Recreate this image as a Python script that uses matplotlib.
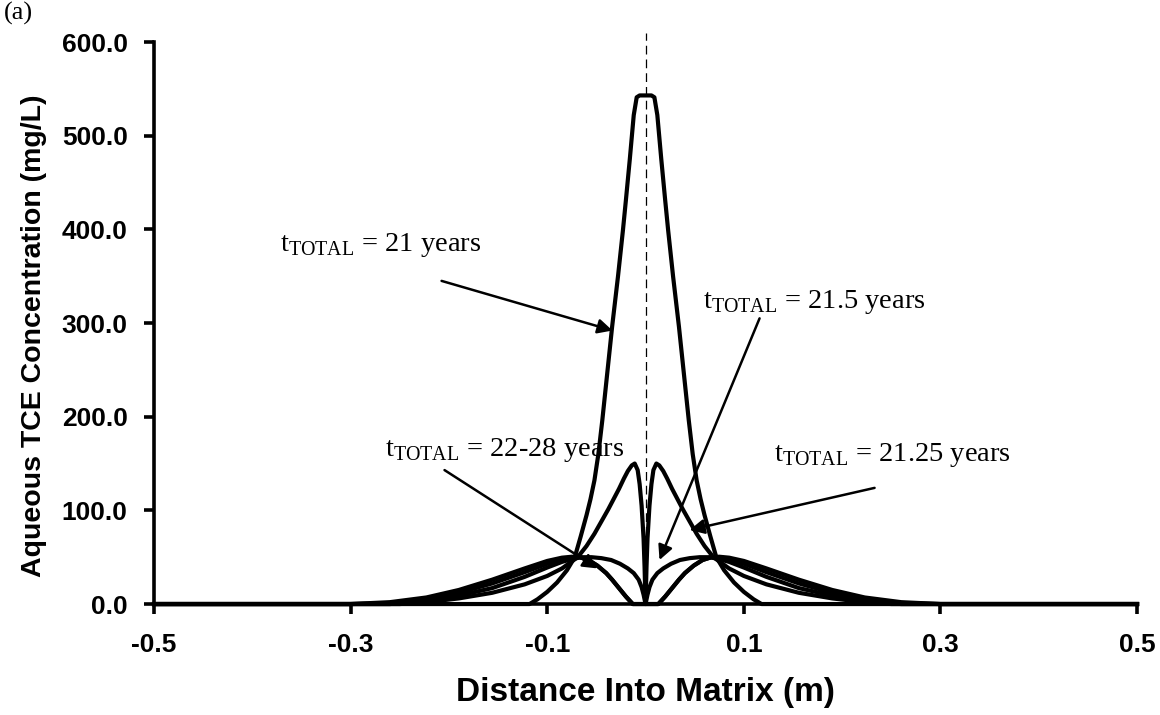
import numpy as np
import matplotlib
matplotlib.use("Agg")
import matplotlib.pyplot as plt

# half profiles (x >= 0), mirrored about the fracture at x = 0
x_21 = [0, 0.006, 0.009, 0.012, 0.016, 0.020, 0.023, 0.028, 0.034, 0.040, 0.044,
        0.048, 0.052, 0.056, 0.060, 0.066, 0.072, 0.080, 0.090, 0.100, 0.110, 0.118, 0.5]
c_21 = [543, 543, 541, 522, 475, 431, 399, 350, 296, 236, 196,
        160, 132, 112, 95, 72, 50, 36, 23, 13, 5, 0, 0]

x_2125 = [0, 0.001, 0.002, 0.004, 0.006, 0.008, 0.011, 0.014, 0.018, 0.022, 0.027,
          0.032, 0.038, 0.045, 0.052, 0.060, 0.069, 0.085, 0.100, 0.123, 0.156,
          0.190, 0.223, 0.250, 0.5]
c_2125 = [0, 40, 70, 105, 128, 143, 150, 148, 142, 134, 123,
          113, 101, 88, 75, 62, 50, 38, 30, 21, 12,
          6, 2, 0, 0]

x_215 = [0, 0.002, 0.004, 0.007, 0.012, 0.018, 0.026, 0.035, 0.045, 0.055, 0.065,
         0.075, 0.085, 0.100, 0.123, 0.156, 0.190, 0.223, 0.260, 0.5]
c_215 = [0, 10, 18, 26, 33, 38, 43, 47, 49, 50, 50,
         48, 45, 39, 29, 17, 9, 4, 0, 0]

x_22_28 = [0, 0.013, 0.020, 0.027, 0.034, 0.040, 0.049, 0.058, 0.067, 0.075, 0.085,
           0.100, 0.123, 0.156, 0.190, 0.223, 0.260, 0.300, 0.5]
c_22 = [0, 0, 8, 17, 26, 33, 41, 47, 50, 50, 48,
        43, 34, 22, 12, 6, 1, 0, 0]
c_28 = [0, 0, 8, 17, 26, 33, 41, 47, 50, 50.5, 49.5,
        46, 38, 26, 15, 7, 2, 0, 0]

x_ticks = [-0.5, -0.3, -0.1, 0.1, 0.3, 0.5]
y_ticks = [0, 100, 200, 300, 400, 500, 600]

plt.rcParams['font.family'] = 'Liberation Sans'
plt.rcParams['mathtext.fontset'] = 'custom'
plt.rcParams['mathtext.rm'] = 'Liberation Serif'


def mirror(x, y):
    x = np.array(x)
    y = np.array(y)
    return np.concatenate([-x[::-1], x[1:]]), np.concatenate([y[::-1], y[1:]])


fig = plt.figure(figsize=(11.6, 7.15), dpi=100)
ax = fig.add_axes([0.1328, 0.1552, 0.8474, 0.786])

for xs, ys in [(x_22_28, c_22), (x_22_28, c_28), (x_215, c_215), (x_2125, c_2125), (x_21, c_21)]:
    mx, my = mirror(xs, ys)
    ax.plot(mx, my, color='black', lw=3, solid_joinstyle='round', clip_on=False)

# fracture position
ax.plot([0.0005, 0.0005], [0, 610], color='black', lw=0.9, ls=(0, (7, 4)), clip_on=False)

ax.set_xlim(-0.5, 0.5)
ax.set_ylim(0, 600)
ax.set_xticks(x_ticks)
ax.set_xticklabels([f"{t:.1f}" for t in x_ticks])
ax.set_yticks(y_ticks)
ax.set_yticklabels([f"{t:.1f}" for t in y_ticks])
for s in ['top', 'right']:
    ax.spines[s].set_visible(False)
for s in ['left', 'bottom']:
    ax.spines[s].set_linewidth(2.6)
ax.tick_params(axis='both', direction='out', length=7, width=2.6, labelsize=19)
ax.tick_params(axis='x', pad=14)
ax.tick_params(axis='y', pad=12)
for lab in ax.get_xticklabels() + ax.get_yticklabels():
    lab.set_fontweight('bold')

ax.set_xlabel('Distance Into Matrix (m)', fontsize=24, fontweight='bold')
ax.set_ylabel('Aqueous TCE Concentration (mg/L)', fontsize=20.5, fontweight='bold')
ax.xaxis.set_label_coords(0.5, -0.13)
ax.yaxis.set_label_coords(-0.109, 0.477)

arrow = dict(arrowstyle='-|>', color='black', lw=1.8, mutation_scale=22, shrinkA=0, shrinkB=0)
labels = [
    (r't$_{\mathrm{TOTAL}}$ = 21 years', (-0.372, 383), (-0.2075, 345), (-0.0336, 292)),
    (r't$_{\mathrm{TOTAL}}$ = 21.5 years', (0.058, 322), (0.116, 305), (0.0142, 47)),
    (r't$_{\mathrm{TOTAL}}$ = 22-28 years', (-0.2655, 164), (-0.2045, 143), (-0.0488, 38)),
    (r't$_{\mathrm{TOTAL}}$ = 21.25 years', (0.131, 159), (0.233, 124), (0.0448, 79)),
]
for txt, pos, start, tip in labels:
    ax.text(pos[0], pos[1], txt, fontsize=20.5, family='Liberation Serif', va='center', ha='left')
    ax.annotate('', xy=tip, xytext=start, arrowprops=arrow)

fig.text(0.003, 0.997, '(a)', fontsize=19, family='Liberation Serif', va='top', ha='left')

fig.savefig('out.png', dpi=100)
